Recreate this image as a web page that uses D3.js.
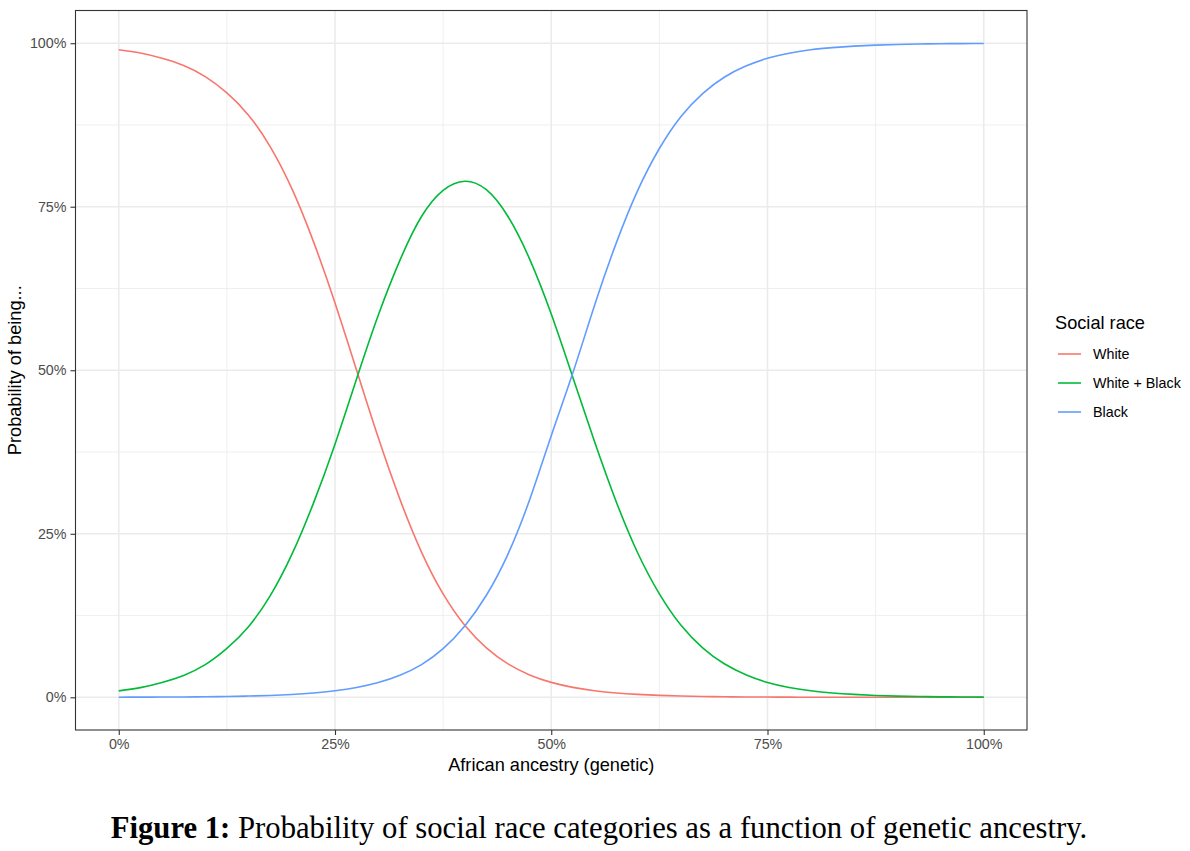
<!DOCTYPE html>
<html><head><meta charset="utf-8">
<script src="https://cdn.jsdelivr.net/npm/d3@7"></script>
<style>
html,body{margin:0;padding:0;background:#fff;}
svg{display:block;}
</style></head>
<body>
<svg id="chart" width="1190" height="851"></svg>
<script>
// ancestry (%) sample points
const ancestry = [0,2.5,5,7.5,10,12.5,15,17.5,20,22.5,25,27.5,30,32.5,35,37.5,40,42.5,45,47.5,50,52.5,55,57.5,60,62.5,65,67.5,70,72.5,75,77.5,80,82.5,85,87.5,90,92.5,95,97.5,100];
// probabilities (0..1)
const white = [0.990,0.985,0.977,0.966,0.949,0.924,0.890,0.842,0.778,0.697,0.603,0.500,0.397,0.303,0.222,0.158,0.110,0.0755,0.051,0.0342,0.0228,0.0152,0.0100,0.0066,0.0044,0.0029,0.0019,0.0013,0.0008,0.0005,0.0004,0.0002,0.0001,0.0001,0,0,0,0,0,0,0];
const whiteBlack = [0.0098,0.0148,0.0227,0.0335,0.050,0.0748,0.108,0.155,0.218,0.2965,0.387,0.487,0.584,0.668,0.735,0.775,0.789,0.776,0.735,0.670,0.586,0.489,0.391,0.2994,0.2206,0.1581,0.1101,0.0757,0.0512,0.0345,0.0226,0.015,0.0099,0.0066,0.0044,0.0028,0.0018,0.0012,0.0007,0.0005,0.0003];
const black = [0.00015,0.00023,0.00035,0.00054,0.00082,0.00123,0.00187,0.00284,0.0043,0.0065,0.0099,0.0149,0.0225,0.0337,0.050,0.0743,0.109,0.156,0.219,0.302,0.400,0.496,0.599,0.694,0.775,0.839,0.888,0.923,0.948,0.965,0.977,0.9846,0.9899,0.9932,0.9955,0.9971,0.9981,0.9987,0.9992,0.9994,0.9996];
const seriesNames = ["White","White + Black","Black"];
const seriesColors = ["#F8766D","#00BA38","#619CFF"];
const tickValues = [0,0.25,0.5,0.75,1];
const tickLabels = ["0%","25%","50%","75%","100%"];
const minorTicks = [0.125,0.375,0.625,0.875];
const legendTitle = "Social race";
const xTitle = "African ancestry (genetic)";
const yTitle = "Probability of being...";
const captionBold = "Figure 1:";
const captionText = " Probability of social race categories as a function of genetic ancestry.";

const svg = d3.select("#chart");
const panel = {left:75.5, right:1027, top:10.5, bottom:730};
const x = d3.scaleLinear().domain([-0.05,1.05]).range([panel.left, panel.right]);
const y = d3.scaleLinear().domain([-0.05,1.05]).range([panel.bottom, panel.top]);
const sans = "Liberation Sans, Arial, sans-serif";

const g = svg.append("g");
// minor grid
g.selectAll(".vminor").data(minorTicks).join("line")
  .attr("x1",d=>x(d)).attr("x2",d=>x(d)).attr("y1",panel.top).attr("y2",panel.bottom)
  .attr("stroke","#EBEBEB").attr("stroke-width",0.8);
g.selectAll(".hminor").data(minorTicks).join("line")
  .attr("y1",d=>y(d)).attr("y2",d=>y(d)).attr("x1",panel.left).attr("x2",panel.right)
  .attr("stroke","#EBEBEB").attr("stroke-width",0.8);
// major grid
g.selectAll(".vmajor").data(tickValues).join("line")
  .attr("x1",d=>x(d)).attr("x2",d=>x(d)).attr("y1",panel.top).attr("y2",panel.bottom)
  .attr("stroke","#EBEBEB").attr("stroke-width",1.6);
g.selectAll(".hmajor").data(tickValues).join("line")
  .attr("y1",d=>y(d)).attr("y2",d=>y(d)).attr("x1",panel.left).attr("x2",panel.right)
  .attr("stroke","#EBEBEB").attr("stroke-width",1.6);

// lines
const series = [white, whiteBlack, black];
const line = d3.line().x(d=>x(d[0]/100)).y(d=>y(d[1])).curve(d3.curveNatural);
series.forEach((vals,i)=>{
  svg.append("path").datum(ancestry.map((a,j)=>[a,vals[j]]))
    .attr("d",line).attr("fill","none").attr("stroke",seriesColors[i]).attr("stroke-width",1.6);
});

// panel border
svg.append("rect").attr("x",panel.left).attr("y",panel.top)
  .attr("width",panel.right-panel.left).attr("height",panel.bottom-panel.top)
  .attr("fill","none").attr("stroke","#333333").attr("stroke-width",1.1);

// axes
const fmt = d=>tickLabels[tickValues.indexOf(d)];
const xAxis = svg.append("g").attr("transform",`translate(0,${panel.bottom})`)
  .call(d3.axisBottom(x).tickValues(tickValues).tickFormat(fmt).tickSize(5).tickPadding(4));
const yAxis = svg.append("g").attr("transform",`translate(${panel.left},0)`)
  .call(d3.axisLeft(y).tickValues(tickValues).tickFormat(fmt).tickSize(5).tickPadding(4));
[xAxis,yAxis].forEach(a=>{
  a.select(".domain").remove();
  a.selectAll(".tick line").attr("stroke","#333333").attr("stroke-width",1.1);
  a.selectAll(".tick text").attr("fill","#4D4D4D").style("font-family",sans).style("font-size","14.3px");
});

// axis titles
svg.append("text").attr("x",(panel.left+panel.right)/2).attr("y",771)
  .attr("text-anchor","middle").style("font-family",sans)
  .style("font-size","18.2px").attr("fill","#000").text(xTitle);
svg.append("text").attr("transform",`translate(21,${(panel.top+panel.bottom)/2}) rotate(-90)`)
  .attr("text-anchor","middle").style("font-family",sans)
  .style("font-size","18.2px").attr("fill","#000").text(yTitle);

// legend
const lg = svg.append("g");
lg.append("text").attr("x",1055).attr("y",329).style("font-family",sans)
  .style("font-size","18.2px").attr("fill","#000").text(legendTitle);
seriesNames.forEach((n,i)=>{
  const yy = 354 + i*29;
  lg.append("line").attr("x1",1058).attr("x2",1081).attr("y1",yy).attr("y2",yy)
    .attr("stroke",seriesColors[i]).attr("stroke-width",1.6);
  lg.append("text").attr("x",1093).attr("y",yy+5).style("font-family",sans)
    .style("font-size","14.3px").attr("fill","#000").text(n);
});

// caption
const cap = svg.append("text").attr("x",599).attr("y",838).attr("text-anchor","middle")
  .style("font-family","Liberation Serif, Times New Roman, serif").style("font-size","30.7px").attr("fill","#000");
cap.append("tspan").attr("font-weight","bold").text(captionBold);
cap.append("tspan").text(captionText);
</script>
</body></html>
